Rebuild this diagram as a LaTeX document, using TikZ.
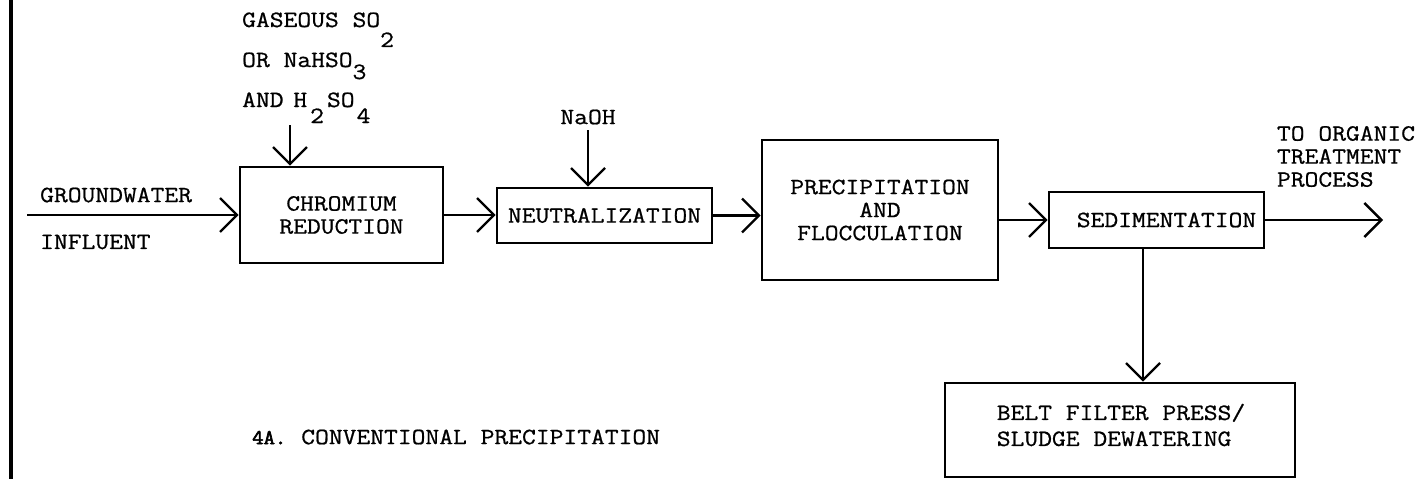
\documentclass[tikz,border=0pt]{standalone}
\usepackage{fontspec}
\usetikzlibrary{arrows.meta}
\newfontfamily\typeface[FakeStretch=1.15,FakeBold=0.8]{Latin Modern Mono}
\newfontfamily\typefacebold[FakeStretch=1.05,FakeBold=3]{Latin Modern Mono}
\newcommand{\lowsub}[2]{\raisebox{-#1}[0pt][0pt]{#2}}
\newcommand{\typefont}{\typeface\fontsize{23.3}{23}\selectfont}
\begin{document}
\begin{tikzpicture}[x=1pt,y=-1pt,
  every node/.style={font=\typefont},
  txt/.style={inner sep=0pt},
  procbox/.style={draw, line width=2.6pt, inner sep=0pt, align=center},
  arr/.style={line width=2.4pt, -{Straight Barb[length=17pt,width=34pt]}}]
\useasboundingbox (0,0) rectangle (1420,479);
% left border bar
\draw[line width=4pt] (11,0) -- (11,479);
% process boxes
\node[procbox, minimum width=203pt, minimum height=96pt] (cr) at (341.5,215) {CHROMIUM\\REDUCTION};
\node[procbox, minimum width=215pt, minimum height=55pt] (ne) at (604.5,215.5) {NEUTRALIZATION};
\node[procbox, minimum width=236pt, minimum height=140pt] (pf) at (880,210) {PRECIPITATION\\AND\\FLOCCULATION};
\node[procbox, minimum width=215pt, minimum height=56pt] (se) at (1156.5,220) {\hspace*{20pt}SEDIMENTATION};
\node[procbox, minimum width=350pt, minimum height=94pt] (bf) at (1120,430) {};
\node[txt, align=left] (bft) at (1121,425) {BELT FILTER PRESS/\\[3pt]SLUDGE DEWATERING};
% text labels
\node[txt, anchor=west] (gw) at (40,195) {GROUNDWATER};
\node[txt, anchor=west] (inf) at (40,242) {INFLUENT};
\node[txt, anchor=base west] (r1) at (242,27) {GASEOUS SO\lowsub{20pt}{2}};
\node[txt, anchor=base west] (r2) at (242,67) {OR NaHSO\lowsub{12pt}{3}};
\node[txt, anchor=base west] (r3) at (242,107) {AND\kern-4pt{} H\kern3pt\lowsub{16pt}{2}\kern3pt SO\kern2pt\lowsub{16pt}{4}};
\node[txt] (naoh) at (588,117) {NaOH};
\node[txt, align=left] (org) at (1346,156.5) {TO ORGANIC\\TREATMENT\\PROCESS};
\node[txt, anchor=west] (cap) at (252,437) {{\typefacebold\fontsize{21}{21}\selectfont 4A.}\kern15pt CONVENTIONAL PRECIPITATION};
% connector endpoints
\coordinate (inp) at (27,215);
\coordinate (so2) at (290,125);
\coordinate (naohin) at (588,130);
\coordinate (outp) at (1383,220);
\path (se.south) ++(-13.5,0) coordinate (sd);
% connectors
\draw[arr] (inp) -- (cr.west);
\draw[arr] (so2) -- (so2 |- cr.north);
\draw[arr] (naohin) -- (naohin |- ne.north);
\draw[arr] (cr.east) -- (cr.east -| ne.west);
\draw[arr] (ne.east) -- (ne.east -| pf.west);
\draw[arr] (se.west -| pf.east) -- (se.west);
\draw[arr] (se.east) -- (outp);
\draw[arr] (sd) -- (sd |- bf.north);
\end{tikzpicture}
\end{document}
